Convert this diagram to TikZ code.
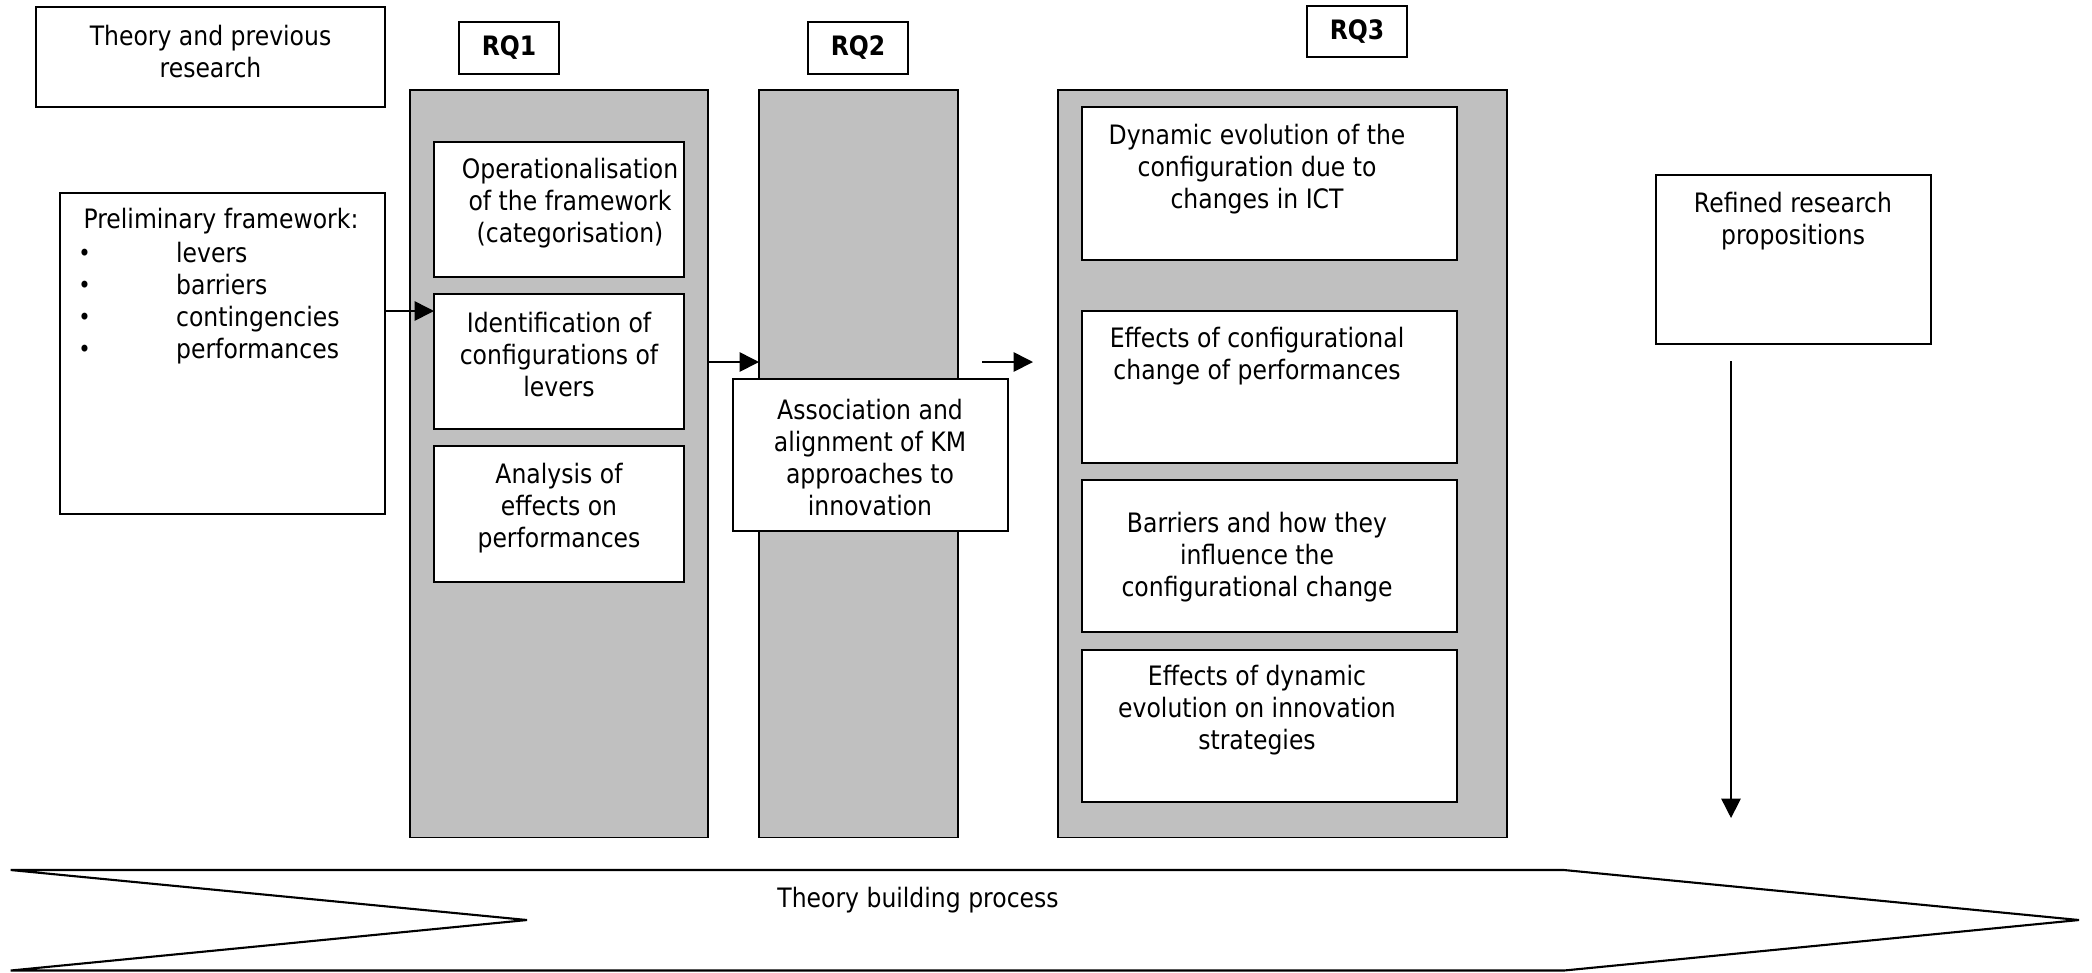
\documentclass[tikz,border=0pt]{standalone}
\usepackage{fontspec}
\setmainfont{DejaVu Sans}[FakeStretch=0.88]
\usetikzlibrary{arrows.meta}
\definecolor{colgray}{HTML}{C0C0C0}
\newcommand{\itemdot}{\makebox[28.2pt][l]{\hspace{0.4pt}\raisebox{0.3pt}{\fontsize{6.8}{9.1}\selectfont •}}}
\begin{document}
\begin{tikzpicture}[x=0.01cm,y=-0.01cm,
  every node/.style={inner sep=0pt, outer sep=0pt},
  frame/.style={draw=black, line width=0.5pt, fill=white, anchor=north west},
  column/.style={draw=black, line width=0.5pt, fill=colgray, anchor=north west},
  txt/.style={align=center, font=\fontsize{7.6}{9.1}\selectfont},
  rqtxt/.style={font=\fontsize{7.6}{9.1}\selectfont\bfseries},
  arr/.style={line width=0.45pt, -{Triangle[length=5.5pt,width=5.5pt]}}
]
\path[use as bounding box] (0,0) rectangle (2092,972);

% research-question columns
\node[column, minimum width=2.98cm, minimum height=7.47cm] (rqonecol) at (410,90) {};
\node[column, minimum width=1.99cm, minimum height=7.47cm] (rqtwocol) at (759,90) {};
\node[column, minimum width=4.49cm, minimum height=7.47cm] (rqthreecol) at (1058,90) {};

% column headings
\node[frame, rqtxt, minimum width=1.00cm, minimum height=0.52cm] (rqone) at (459,22) {RQ1};
\node[frame, rqtxt, minimum width=1.00cm, minimum height=0.52cm] (rqtwo) at (808,22) {RQ2};
\node[frame, rqtxt, minimum width=1.00cm, minimum height=0.51cm] (rqthree) at (1307,6) {RQ3};

% left-hand boxes
\node[frame, minimum width=3.49cm, minimum height=1.00cm] (theory) at (36,7) {};
\node[frame, minimum width=3.25cm, minimum height=3.21cm] (prelim) at (60,193) {};

% RQ1 boxes
\node[frame, minimum width=2.50cm, minimum height=1.35cm] (oper) at (434,142) {};
\node[frame, minimum width=2.50cm, minimum height=1.35cm] (ident) at (434,294) {};
\node[frame, minimum width=2.50cm, minimum height=1.36cm] (anal) at (434,446) {};

% RQ2 box
\node[frame, minimum width=2.75cm, minimum height=1.52cm] (assoc) at (733,379) {};

% RQ3 boxes
\node[frame, minimum width=3.75cm, minimum height=1.53cm] (dyn) at (1082,107) {};
\node[frame, minimum width=3.75cm, minimum height=1.52cm] (effc) at (1082,311) {};
\node[frame, minimum width=3.75cm, minimum height=1.52cm] (barr) at (1082,480) {};
\node[frame, minimum width=3.75cm, minimum height=1.52cm] (effd) at (1082,650) {};

% outcome box
\node[frame, minimum width=2.75cm, minimum height=1.69cm] (refined) at (1656,175) {};

% texts
\node[txt] (theoryT) at (210.5,51.5) {Theory and previous\\research};
\node[txt] (prelimH) at (221,221.5) {Preliminary framework:};
\node[txt, align=left, anchor=west] (prelimL) at (77,303.5) {%
  \itemdot levers\\
  \itemdot barriers\\
  \itemdot contingencies\\
  \itemdot performances};
\node[txt] (operT) at (570,203.5) {Operationalisation\\of the framework\\(categorisation)};
\node[txt] (identT) at (559,354.5) {Identification of\\configurations of\\levers};
\node[txt] (analT) at (559,508.5) {Analysis of\\effects on\\performances};
\node[txt] (assocT) at (870,457.5) {Association and\\alignment of KM\\approaches to\\innovation};
\node[txt] (dynT) at (1257,169.5) {Dynamic evolution of the\\configuration due to\\changes in ICT};
\node[txt] (effcT) at (1257,356) {Effects of configurational\\change of performances};
\node[txt] (barT) at (1257,557.5) {Barriers and how they\\influence the\\configurational change};
\node[txt] (effdT) at (1257,710.5) {Effects of dynamic\\evolution on innovation\\strategies};
\node[txt] (refT) at (1793,221.5) {Refined research\\propositions};

% theory building process band
\draw[line width=0.6pt] (10.7,870) -- (1564,870) -- (2079,920) -- (1564,970.5) -- (10.7,970.5) -- (527,920) -- cycle;
\node[txt] (chevT) at (918,900) {Theory building process};

% connectors
\coordinate (lvA) at (0,311);
\coordinate (lvB) at (0,362);
\draw[arr] (prelim.east |- lvA) -- (ident.west |- lvA);
\draw[arr] (rqonecol.east |- lvB) -- (rqtwocol.west |- lvB);
\coordinate (athreeS) at (982,362);
\coordinate (athreeE) at (1033,362);
\draw[arr] (athreeS) -- (athreeE);
\coordinate (downS) at (1731,361);
\coordinate (downE) at (1731,818);
\draw[arr] (downS) -- (downE);
\end{tikzpicture}
\end{document}
